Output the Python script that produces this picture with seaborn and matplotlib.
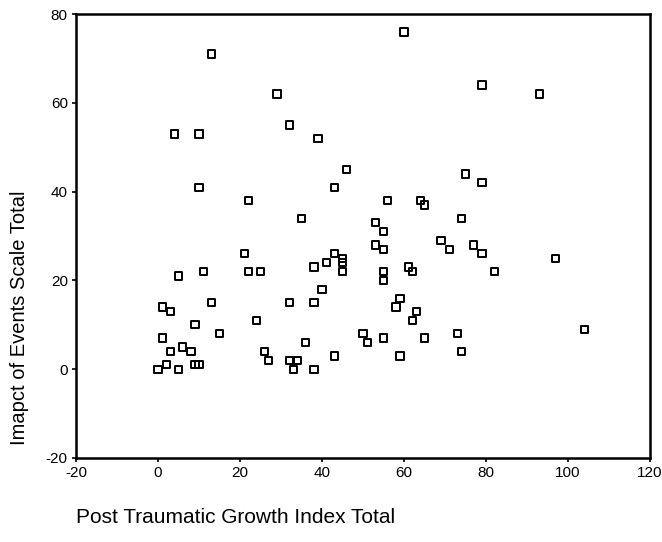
import matplotlib
matplotlib.use("Agg")
import matplotlib.pyplot as plt
import seaborn as sns
import pandas as pd

# Post Traumatic Growth Index totals (x) and Impact of Events Scale totals (y)
ptgi_total = [13, 60, 29, 79, 93, 32, 4, 10, 39, 46, 75, 79, 10, 43, 22, 56, 64, 65,
              35, 74, 53, 55, 69, 53, 77, 55, 71, 21, 43, 79, 45, 97, 41, 45, 38, 61,
              11, 22, 25, 45, 55, 62, 82, 5, 55, 40, 59, 13, 32, 38, 1, 58, 3, 63,
              24, 62, 9, 104, 15, 50, 73, 1, 65, 55, 51, 36, 6, 3, 8, 26, 74, 43,
              59, 27, 32, 34, 2, 9, 10, 0, 5, 33, 38]
ies_total = [71, 76, 62, 64, 62, 55, 53, 53, 52, 45, 44, 42, 41, 41, 38, 38, 38, 37,
             34, 34, 33, 31, 29, 28, 28, 27, 27, 26, 26, 26, 25, 25, 24, 24, 23, 23,
             22, 22, 22, 22, 22, 22, 22, 21, 20, 18, 16, 15, 15, 15, 14, 14, 13, 13,
             11, 11, 10, 9, 8, 8, 8, 7, 7, 7, 6, 6, 5, 4, 4, 4, 4, 3,
             3, 2, 2, 2, 1, 1, 1, 0, 0, 0, 0]

x_ticks = [-20, 0, 20, 40, 60, 80, 100, 120]
y_ticks = [-20, 0, 20, 40, 60, 80]

df = pd.DataFrame({"ptgi": ptgi_total, "ies": ies_total})

sns.set_style("white")
plt.rcParams["font.family"] = ["Liberation Sans", "DejaVu Sans"]
plt.rcParams["axes.unicode_minus"] = False

fig = plt.figure(figsize=(6.62, 5.42), dpi=100)
ax = fig.add_axes([0.115, 0.155, 0.867, 0.819])

sns.scatterplot(data=df, x="ptgi", y="ies", ax=ax, marker="s", s=28,
                facecolors="none", edgecolors="black", linewidths=1.4)

ax.set_xlim(-20, 120)
ax.set_ylim(-20, 80)
ax.set_xticks(x_ticks)
ax.set_yticks(y_ticks)
ax.set_xticklabels([str(t) for t in x_ticks])
ax.set_yticklabels([str(t) for t in y_ticks])

for side in ["left", "bottom", "right", "top"]:
    ax.spines[side].set_visible(True)
    ax.spines[side].set_color("black")
    ax.spines[side].set_linewidth(1.8)

ax.tick_params(axis="both", which="major", direction="out", length=3, width=1.2,
               colors="black", labelsize=11, bottom=True, left=True,
               top=False, right=False, pad=3)

ax.set_xlabel("Post Traumatic Growth Index Total", fontsize=15, loc="left",
              labelpad=20, color="black")
ax.set_ylabel("Imapct of Events Scale Total", fontsize=14.5, loc="bottom",
              labelpad=12, color="black")
ax.yaxis.label.set_y(0.03)

fig.savefig("out.png", dpi=100)
